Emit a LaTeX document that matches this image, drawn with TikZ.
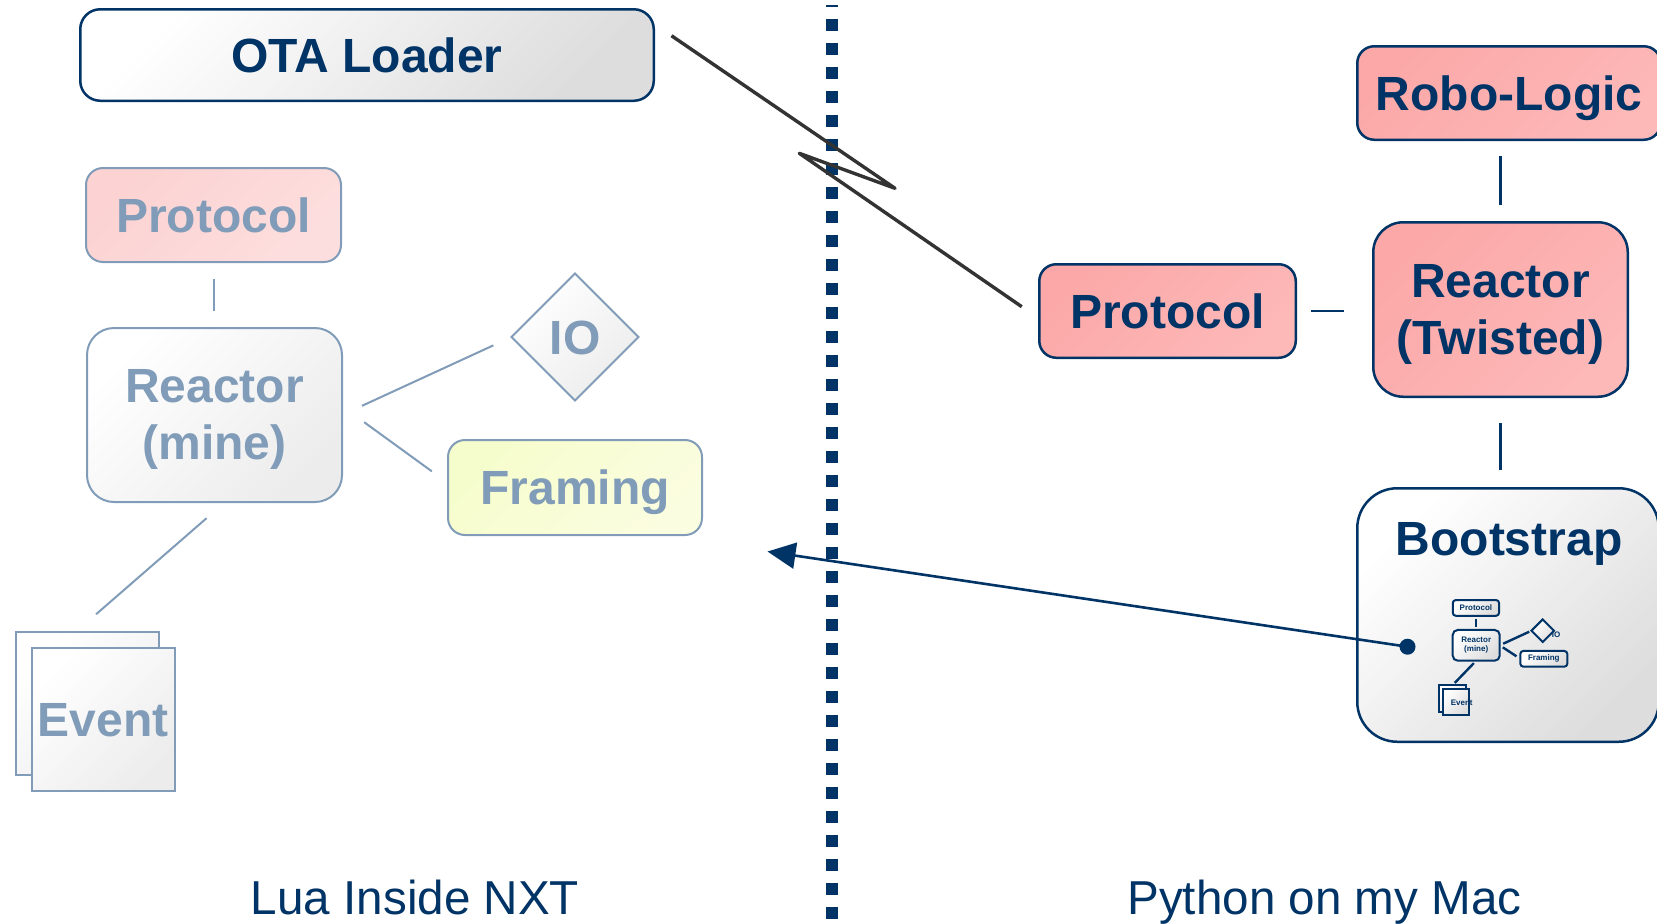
\documentclass[tikz,border=0pt]{standalone}
\usepackage{fontspec}
\setmainfont{Liberation Sans}
\usetikzlibrary{shapes.geometric,arrows.meta,calc}
\definecolor{navy}{RGB}{0,51,102}
\definecolor{fade}{RGB}{128,156,184}
\definecolor{pinkA}{RGB}{252,168,168}
\definecolor{pinkB}{RGB}{253,184,184}
\definecolor{paleA}{RGB}{252,210,210}
\definecolor{paleB}{RGB}{253,222,222}
\definecolor{yelA}{RGB}{246,253,204}
\definecolor{yelB}{RGB}{251,253,224}
\definecolor{greyA}{RGB}{221,221,221}
\definecolor{greyB}{RGB}{236,236,236}
\definecolor{bolt}{RGB}{51,51,51}
\tikzset{
  big/.style={font=\bfseries\fontsize{24}{28.5}\selectfont},
  oneline/.style={text height=17.2pt, text depth=0pt},
  navy box/.style={draw=navy, line width=1.25pt, text=navy, inner sep=0pt, outer sep=0pt, align=center, big},
  faded box/.style={draw=fade, line width=1pt, text=fade, inner sep=0pt, outer sep=0pt, align=center, big},
  grey shade/.style={top color=white, bottom color=greyA, shading angle=45},
  light shade/.style={top color=white, bottom color=greyB, shading angle=45},
  pink shade/.style={top color=pinkA, bottom color=pinkB, shading angle=45},
  pale shade/.style={top color=paleA, bottom color=paleB, shading angle=45},
  yellow shade/.style={top color=yelA, bottom color=yelB, shading angle=45},
  mini/.style={draw=navy, line width=1pt, text=navy, inner sep=0pt, outer sep=0pt, align=center,
    font=\bfseries\fontsize{4}{4.7}\selectfont, top color=white, bottom color=greyA, shading angle=45},
  minitext/.style={text=navy, inner sep=0pt, font=\bfseries\fontsize{4}{4.7}\selectfont},
  faded link/.style={draw=fade, line width=1pt},
  navy link/.style={draw=navy, line width=1.3pt},
  mini link/.style={draw=navy, line width=1.2pt},
  caption/.style={text=navy, inner sep=0pt, anchor=base, font=\fontsize{23.8}{28}\selectfont}
}
\begin{document}
\begin{tikzpicture}[x=0.5pt,y=-0.5pt]
\useasboundingbox (0,0) rectangle (1657,923);
\clip (0,0) rectangle (1657,923);
\fill[white] (0,0) rectangle (1657,923);

% dividing line between the two machines
\draw[navy, line width=6.15pt, dash pattern=on 6pt off 6pt, dash phase=5pt] (832.2,5) -- (832.2,919);

% ---------- left side: Lua inside the NXT ----------
\node[navy box, grey shade, minimum width=286.75pt, minimum height=45.75pt, rounded corners=10pt, oneline] (ota) at (367,55) {OTA Loader};

\node[faded box, pale shade, minimum width=127.5pt, minimum height=47pt, rounded corners=8.5pt, oneline] (pleft) at (213.5,215) {Protocol};
\node[faded box, light shade, minimum width=127.5pt, minimum height=87pt, rounded corners=13.5pt] (rmine) at (214.5,415) {\rule{0pt}{21pt}Reactor\\(mine)};
\node[faded box, light shade, diamond, minimum size=63.5pt, oneline] (io) at (575,337) {IO};
\node[faded box, yellow shade, minimum width=127pt, minimum height=47.5pt, rounded corners=8.5pt, oneline] (fram) at (575,487.5) {Framing};
\node[faded box, light shade, minimum size=71.5pt] (evback) at (87.2,703.3) {};
\node[faded box, light shade, minimum size=71.5pt, oneline] (evt) at (103.2,719.5) {Event};

\draw[faded link, shorten <=8.5pt, shorten >=8.5pt] (pleft.south) -- (pleft.south |- rmine.north);
\draw[faded link, shorten <=11pt, shorten >=10pt] (rmine.east) -- (io.west);
\draw[faded link, shorten <=13.7pt, shorten >=10pt] (rmine.4) -- (fram.178);
\draw[faded link, shorten <=12.3pt, shorten >=13.4pt] (rmine.-83) -- (evback.99);

% ---------- right side: Python on the Mac ----------
\node[navy box, pink shade, minimum width=151.75pt, minimum height=46.75pt, rounded corners=8.5pt, oneline] (robo) at (1509,93) {Robo-Logic};
\node[navy box, pink shade, minimum width=127.25pt, minimum height=87.25pt, rounded corners=15pt] (twist) at (1500.5,309.5) {\rule{0pt}{21pt}Reactor\\(Twisted)};
\node[navy box, pink shade, minimum width=128.25pt, minimum height=46.75pt, rounded corners=8.5pt, oneline] (pright) at (1167.5,311) {Protocol};
\node[navy box, grey shade, minimum width=150.75pt, minimum height=126.75pt, rounded corners=20pt] (boot) at (1508,615) {};
\node[text=navy, big, anchor=base, inner sep=0pt] (boottitle) at (1509,555) {Bootstrap};

\draw[navy link, shorten <=8.3pt, shorten >=8.5pt] (twist.north |- robo.south) -- (twist.north);
\draw[navy link, shorten <=13pt, shorten >=9pt] (twist.south) -- (twist.south |- boot.north);
\draw[navy link, shorten <=7.8pt, shorten >=14.8pt] (pright.east) -- (pright.east -| twist.west);

% small copy of the NXT stack packed inside the bootstrap
\node[mini, minimum width=23.15pt, minimum height=7.85pt, rounded corners=1.5pt] (mprot) at (1475.9,607.9) {Protocol};
\node[mini, minimum width=23.5pt, minimum height=15.35pt, rounded corners=2.5pt] (mreac) at (1476.2,645.3) {Reactor\\(mine)};
\node[mini, diamond, minimum size=11.3pt] (mdia) at (1542.7,630.7) {};
\node[minitext] (mio) at (1556,635) {IO};
\node[mini, minimum width=23.5pt, minimum height=7.85pt, rounded corners=1.5pt] (mfram) at (1543.8,658.8) {Framing};
\node[mini, minimum size=13.2pt] (mevb) at (1452.5,698.4) {};
\node[mini, minimum size=13.2pt] (mevf) at (1455.8,701.7) {};
\node[minitext] (mevt) at (1461.7,702.3) {Event};

\draw[mini link, shorten <=1.6pt, shorten >=1.6pt] (mprot.south) -- (mprot.south |- mreac.north);
\draw[mini link, shorten <=1.9pt, shorten >=1.2pt] (mreac.east) -- (mdia.west);
\draw[mini link, shorten <=1.8pt, shorten >=2.3pt] (mreac.east) -- (mfram.west);
\draw[mini link, shorten <=1.7pt, shorten >=1.6pt] (mreac.south) -- (mevb.north);

% the bootstrap is shipped over to the NXT
\node[circle, fill=navy, minimum size=8pt, inner sep=0pt] (dot) at (1407.5,646.7) {};
\coordinate (tip) at (767.5,551.5);
\draw[navy, line width=1.3pt, -{Triangle[length=14pt,width=13pt]}] (dot.center) -- (tip);

% over-the-air link between loader and protocol
\draw[bolt, line width=1.7pt, line join=round] ($(ota.east)+(17.7,-19.3)$) -- (895,188.3) -- (799.3,153.3) -- ($(pright.west)+(-17.5,-4.3)$);

% captions
\node[caption] (lua) at (415,914) {Lua Inside NXT};
\node[caption] (py) at (1324.5,914) {Python on my Mac};
\end{tikzpicture}
\end{document}
